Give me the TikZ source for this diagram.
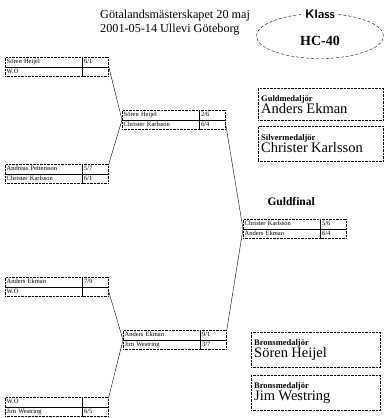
\documentclass[tikz,border=0pt]{standalone}
\usepackage{fontspec}
\setmainfont{Liberation Serif}
\usepackage{tikz}
\usetikzlibrary{positioning,shapes.geometric}

\tikzset{
  cell/.style={draw, densely dotted, inner xsep=1.5pt, inner ysep=0pt, minimum height=9.5pt, text height=4.6pt, text depth=1.4pt, align=left, anchor=north west, font=\fontsize{6.5}{7}\selectfont},
  namecell/.style={cell, text width=74pt},
  scorecell/.style={cell, text width=23pt},
  medal/.style={draw, densely dotted, anchor=north west, align=left, inner sep=3pt},
  link/.style={thin}
}

\begin{document}
\begin{tikzpicture}[x=1pt, y=-1pt]
  \useasboundingbox (0,0) rectangle (386,418);

  % rubrik
  \node[anchor=north west, align=left, inner sep=0pt, font=\fontsize{12.2}{14}\selectfont] (title) at (100,10)
    {Götalandsmästerskapet 20 maj\\2001-05-14 Ullevi Göteborg};
  \node[draw, densely dashed, ellipse, minimum width=127pt, minimum height=45pt] (klass) at (320,36) {};
  \node[fill=white, inner sep=1pt, font=\sffamily\bfseries\fontsize{12.5}{12.5}\selectfont] (klasslabel) at (320,14) {Klass};
  \node[font=\bfseries\fontsize{14}{14}\selectfont] (hc) at (320,41) {HC-40};

  % matcher
  \foreach \id/\x/\y/\pa/\sa/\pb/\sb in {
      qf1/5/57/Sören Heijel/{6/1}/W.O/{},
      sf1/122/110/Sören Heijel/{2/6}/Christer Karlsson/{6/4},
      qf2/5/164/Andreas Pettersson/{5/7}/Christer Karlsson/{6/1},
      fin/243/219/Christer Karlsson/{5/6}/Anders Ekman/{6/4},
      qf3/5/277/Anders Ekman/{7/9}/W.O/{},
      sf2/123/330/Anders Ekman/{9/1}/Jim Westring/{3/7},
      qf4/5/397/W.O/{}/Jim Westring/{6/5}} {
    \node[namecell] (\id a) at (\x,\y) {\pa};
    \node[scorecell, right=0pt of \id a] (\id as) {\sa};
    \node[namecell, below=0pt of \id a] (\id b) {\pb};
    \node[scorecell, right=0pt of \id b] (\id bs) {\sb};
  }

  \node[anchor=west, font=\bfseries\fontsize{11.5}{11.5}\selectfont] (guld) at (264,202) {Guldfinal};

  \draw[link] (qf1bs.north east) -- (sf1a.south west);
  \draw[link] (qf2as.north east) -- (sf1a.south west);
  \draw[link] (qf3bs.east) -- (sf2a.south west);
  \draw[link] (qf4as.north east) -- (sf2a.south west);
  \draw[link] (sf1bs.east) -- (fina.south west);
  \draw[link] (sf2as.north east) -- (fina.south west);

  % medaljörer
  \node[medal, text width=119pt, minimum height=32pt] (gold) at (258,88)
    {{\bfseries\fontsize{8.5}{9}\selectfont Guldmedaljör}\\{\fontsize{14.5}{14}\selectfont Anders Ekman}};
  \node[medal, text width=119pt, minimum height=35pt] (silver) at (258,126)
    {{\bfseries\fontsize{8.5}{9}\selectfont Silvermedaljör}\\{\fontsize{14.5}{15}\selectfont Christer Karlsson}};
  \node[medal, text width=123pt, minimum height=35pt] (brons1) at (251,332)
    {{\bfseries\fontsize{8.5}{9}\selectfont Bronsmedaljör}\\{\fontsize{14.5}{15}\selectfont Sören Heijel}};
  \node[medal, text width=123pt, minimum height=35pt] (brons2) at (251,375)
    {{\bfseries\fontsize{8.5}{9}\selectfont Bronsmedaljör}\\{\fontsize{14.5}{15}\selectfont Jim Westring}};
\end{tikzpicture}
\end{document}
